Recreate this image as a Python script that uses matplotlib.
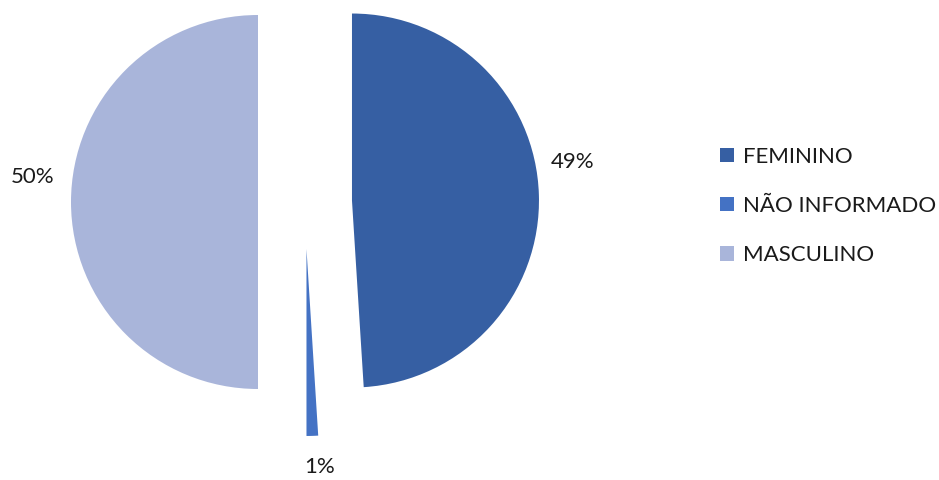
import matplotlib
matplotlib.use("Agg")
import matplotlib.pyplot as plt

# Gender distribution
categories = ["FEMININO", "NÃO INFORMADO", "MASCULINO"]
values = [49, 1, 50]
colors = ["#365FA3", "#4472C4", "#A9B5DA"]

plt.rcParams["font.family"] = ["Lato", "DejaVu Sans"]

W, H = 939, 480
fig = plt.figure(figsize=(W / 100, H / 100), dpi=100)
ax = fig.add_axes([0, 0, 1, 1])

radius = 187
wedges, _ = ax.pie(
    values,
    colors=colors,
    startangle=90,
    counterclock=False,
    center=(305, H - 202),
    radius=radius,
    explode=[47] * len(values),
    wedgeprops=dict(linewidth=0),
    frame=True,
)
ax.set_xlim(0, W)
ax.set_ylim(0, H)
ax.set_aspect("equal")
ax.axis("off")

# Percentage labels beside each slice
label_pos = [(573, H - 162), (320, H - 467), (33, H - 177)]
for v, (x, y) in zip(values, label_pos):
    ax.text(x, y, f"{v}%", ha="center", va="center", fontsize=16, color="#1a1a1a")

leg = ax.legend(
    wedges,
    categories,
    loc="center left",
    bbox_to_anchor=(720 / W, (H - 206) / H),
    bbox_transform=fig.transFigure,
    frameon=False,
    fontsize=16,
    handlelength=0.62,
    handleheight=0.62,
    handletextpad=0.4,
    labelspacing=1.32,
    borderpad=0,
    borderaxespad=0,
)
for t in leg.get_texts():
    t.set_color("#1a1a1a")

fig.savefig("out.png", dpi=100)
